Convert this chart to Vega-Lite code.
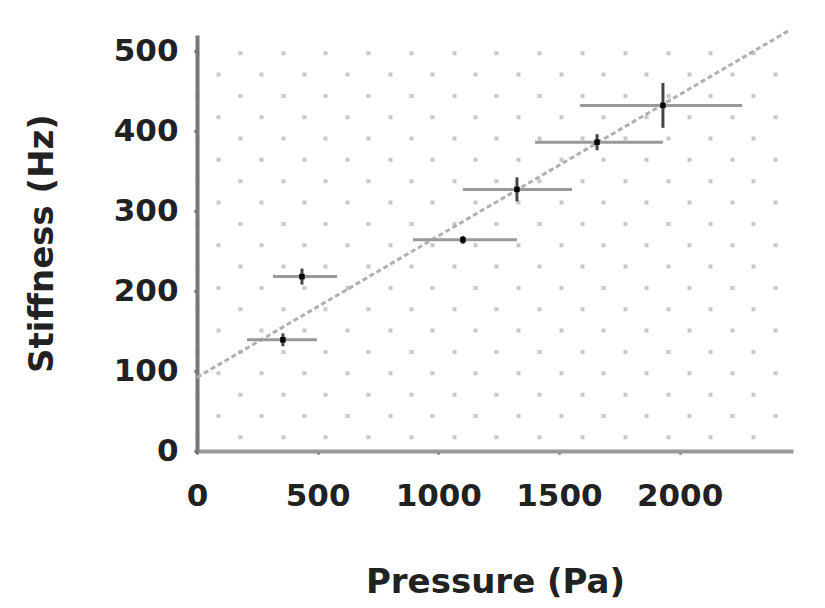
{
  "$schema": "https://vega.github.io/schema/vega-lite/v6.json",
  "width": 596,
  "height": 416,
  "autosize": {"type": "none"},
  "padding": {"left": 197, "top": 35, "right": 32, "bottom": 157},
  "background": "white",
  "config": {"view": {"stroke": null}, "font": "DejaVu Sans"},
  "datasets": {
    "obs": [
      {"x": 356, "y": 139, "xlo": 207, "xhi": 497, "ylo": 131, "yhi": 147},
      {"x": 435, "y": 218, "xlo": 315, "xhi": 580, "ylo": 208, "yhi": 228},
      {"x": 1102, "y": 264, "xlo": 895, "xhi": 1326, "ylo": 259, "yhi": 269},
      {"x": 1326, "y": 327, "xlo": 1102, "xhi": 1554, "ylo": 312, "yhi": 342},
      {"x": 1658, "y": 386, "xlo": 1401, "xhi": 1931, "ylo": 376, "yhi": 396},
      {"x": 1931, "y": 432, "xlo": 1587, "xhi": 2259, "ylo": 404, "yhi": 460}
    ],
    "fit": [
      {"x": 0, "y": 92},
      {"x": 2450, "y": 525}
    ]
  },
  "resolve": {"scale": {"x": "independent"}},
  "layer": [
    {
      "layer": [
        {
          "data": {"name": "fit"},
          "mark": {"type": "line", "stroke": "#b0b0b0", "strokeWidth": 3, "strokeDash": [5, 3], "clip": false},
          "encoding": {
            "x": {
              "field": "x", "type": "quantitative", "title": "Pressure (Pa)",
              "scale": {"domain": [0, 2470], "nice": false, "zero": false},
              "axis": {
                "orient": "bottom", "values": [0, 500, 1000, 1500, 2000], "format": "d", "grid": false,
                "domainColor": "#999999", "domainWidth": 4,
                "tickColor": "#666666", "tickSize": 3, "tickWidth": 3,
                "labelFont": "DejaVu Sans", "labelFontSize": 31, "labelFontWeight": "bold", "labelColor": "#222222",
                "labelPadding": 27, "labelFlush": false, "labelOverlap": false,
                "titleFont": "DejaVu Sans", "titleFontSize": 34, "titleFontWeight": "bold", "titleColor": "#222222",
                "titlePadding": 54
              }
            },
            "y": {
              "field": "y", "type": "quantitative", "title": "Stiffness (Hz)",
              "scale": {"domain": [0, 520], "nice": false, "zero": false},
              "axis": {
                "orient": "left", "values": [0, 100, 200, 300, 400, 500], "format": "d", "grid": false,
                "domainColor": "#777777", "domainWidth": 4,
                "tickColor": "#666666", "tickSize": 3, "tickWidth": 3,
                "labelFont": "DejaVu Sans", "labelFontSize": 31, "labelFontWeight": "bold", "labelColor": "#222222",
                "labelPadding": 16, "labelFlush": false, "labelOverlap": false,
                "titleFont": "DejaVu Sans", "titleFontSize": 34, "titleFontWeight": "bold", "titleColor": "#222222",
                "titlePadding": 54
              }
            }
          }
        },
        {
          "data": {"name": "obs"},
          "mark": {"type": "rule", "stroke": "#999999", "strokeWidth": 3},
          "encoding": {
            "x": {"field": "xlo", "type": "quantitative", "title": "Pressure (Pa)"},
            "x2": {"field": "xhi"},
            "y": {"field": "y", "type": "quantitative", "title": "Stiffness (Hz)"}
          }
        },
        {
          "data": {"name": "obs"},
          "mark": {"type": "rule", "stroke": "#444444", "strokeWidth": 3},
          "encoding": {
            "x": {"field": "x", "type": "quantitative", "title": "Pressure (Pa)"},
            "y": {"field": "ylo", "type": "quantitative", "title": "Stiffness (Hz)"},
            "y2": {"field": "yhi"}
          }
        },
        {
          "data": {"name": "obs"},
          "mark": {"type": "square", "filled": true, "color": "#000000", "size": 30, "opacity": 1},
          "encoding": {
            "x": {"field": "x", "type": "quantitative", "title": "Pressure (Pa)"},
            "y": {"field": "y", "type": "quantitative", "title": "Stiffness (Hz)"}
          }
        }
      ]
    },
    {
      "data": {"name": "obs"},
      "mark": {"type": "point", "opacity": 0},
      "encoding": {
        "x": {
          "field": "x", "type": "quantitative",
          "scale": {"domain": [0, 2470], "nice": false, "zero": false},
          "axis": {
            "orient": "bottom",
            "values": [0, 177.3, 354.6, 531.9, 709.2, 886.5, 1063.8, 1241.1, 1418.4, 1595.7, 1773, 1950.3, 2127.6, 2304.9],
            "grid": true, "gridColor": "#c8c8c8", "gridWidth": 4, "gridDash": [4, 38.68], "gridDashOffset": 26.98,
            "labels": false, "ticks": false, "domain": false, "title": null
          }
        },
        "y": {"field": "y", "type": "quantitative", "title": "Stiffness (Hz)"}
      }
    },
    {
      "data": {"name": "obs"},
      "mark": {"type": "point", "opacity": 0},
      "encoding": {
        "x": {
          "field": "x", "type": "quantitative",
          "scale": {"domain": [0, 2470], "nice": false, "zero": false},
          "axis": {
            "orient": "bottom",
            "values": [88.65, 265.95, 443.25, 620.55, 797.85, 975.15, 1152.45, 1329.75, 1507.05, 1684.35, 1861.65, 2038.95, 2216.25, 2393.55],
            "grid": true, "gridColor": "#c8c8c8", "gridWidth": 4, "gridDash": [4, 38.68], "gridDashOffset": 5.68,
            "labels": false, "ticks": false, "domain": false, "title": null
          }
        },
        "y": {"field": "y", "type": "quantitative", "title": "Stiffness (Hz)"}
      }
    }
  ]
}
